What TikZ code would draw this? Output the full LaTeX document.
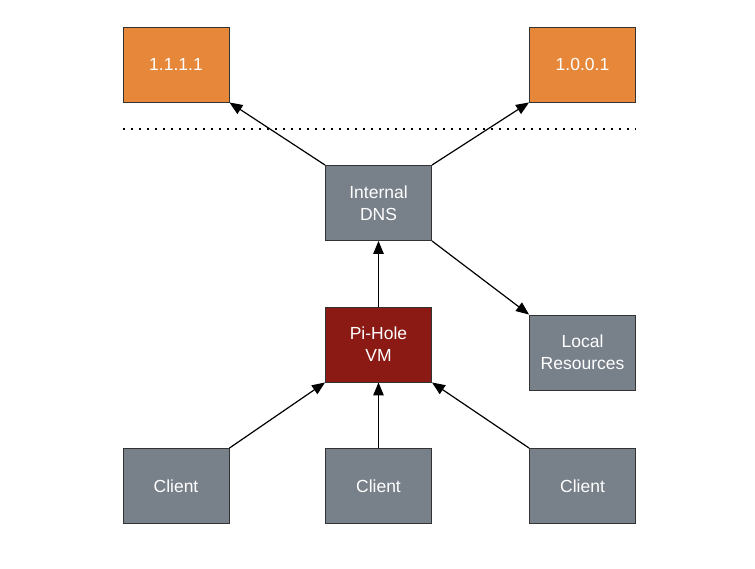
\documentclass[tikz,border=0pt]{standalone}
\usepackage{fontspec}
\setmainfont{Liberation Sans}
\usetikzlibrary{arrows.meta}
\definecolor{dnsorange}{HTML}{E6873A}
\definecolor{boxgray}{HTML}{78808A}
\definecolor{holered}{HTML}{8B1A14}
\tikzset{
  box/.style={draw=black!80, line width=0.9pt, minimum width=106pt, minimum height=75pt,
    inner sep=0pt, align=center, text=white, font=\fontsize{17.5}{22}\selectfont},
  upstream/.style={box, fill=dnsorange},
  local/.style={box, fill=boxgray},
  pihole/.style={box, fill=holered},
  query/.style={line width=1.2pt, -{Triangle[length=13pt,width=10.5pt]}}
}
\begin{document}
\begin{tikzpicture}[x=1pt, y=-1pt]
    \useasboundingbox (0,0) rectangle (755,569);

    \node[upstream] (cf1) at (176,64.5) {1.1.1.1};
    \node[upstream] (cf2) at (582.5,64.5) {1.0.0.1};

    \coordinate (edgeL) at (123,129);
    \coordinate (edgeR) at (636,129);
    \draw[line width=1.2pt, dash pattern=on 1.5pt off 6.5pt] (edgeL) -- (edgeR);

    \node[local] (dns) at (378.5,203) {Internal\\DNS};
    \node[pihole] (pi) at (378.5,344.5) {Pi-Hole\\VM};
    \node[local] (res) at (582.5,352.5) {Local\\Resources};

    \node[local] (clientA) at (176,486) {Client};
    \node[local] (clientB) at (378.5,486) {Client};
    \node[local] (clientC) at (582.5,486) {Client};

    \draw[query] (dns.north west) -- (cf1.south east);
    \draw[query] (dns.north east) -- (cf2.south west);
    \draw[query] (dns.south east) -- (res.north west);
    \draw[query] (pi.north) -- (dns.south);
    \draw[query] (clientA.north east) -- (pi.south west);
    \draw[query] (clientB.north) -- (pi.south);
    \draw[query] (clientC.north west) -- (pi.south east);
\end{tikzpicture}
\end{document}
